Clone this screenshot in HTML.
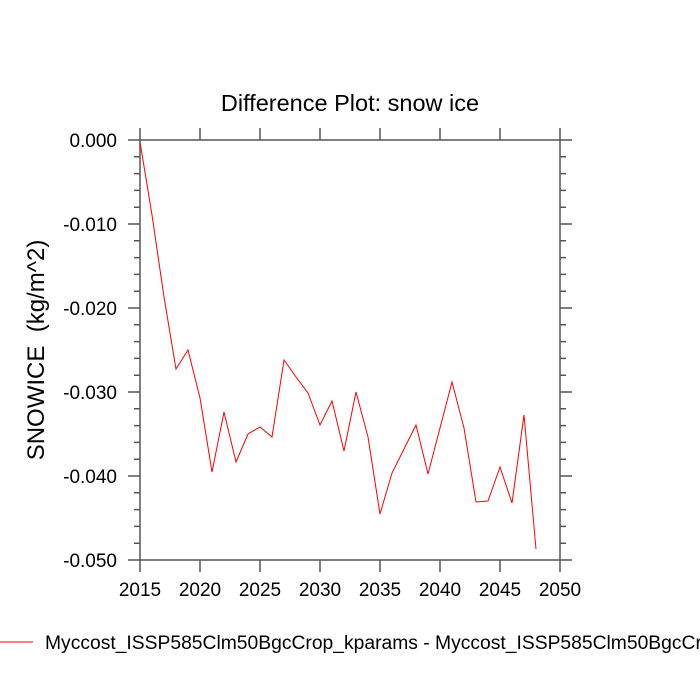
<!DOCTYPE html>
<html><head><meta charset="utf-8"><style>body{margin:0;background:#fff;overflow:hidden}svg{display:block}</style></head>
<body>
<svg width="700" height="700" xmlns="http://www.w3.org/2000/svg" font-family="Liberation Sans, sans-serif">
<text x="350" y="111" font-size="23.5" text-anchor="middle">Difference Plot: snow ice</text>
<g stroke="#555" stroke-width="1.5" fill="none">
<rect x="140" y="140" width="420" height="420"/>
</g>
<g stroke="#555" stroke-width="1.5">
<path d="M140 140V128M200 140V128M260 140V128M320 140V128M380 140V128M440 140V128M500 140V128M560 140V128
M140 560V572M200 560V572M260 560V572M320 560V572M380 560V572M440 560V572M500 560V572M560 560V572"/>
<path d="M140 140H128M140 224H128M140 308H128M140 392H128M140 476H128M140 560H128
M560 140H572M560 224H572M560 308H572M560 392H572M560 476H572M560 560H572"/>
<path d="M140 156.8H134M140 173.6H134M140 190.4H134M140 207.2H134
M140 240.8H134M140 257.6H134M140 274.4H134M140 291.2H134
M140 324.8H134M140 341.6H134M140 358.4H134M140 375.2H134
M140 408.8H134M140 425.6H134M140 442.4H134M140 459.2H134
M140 492.8H134M140 509.6H134M140 526.4H134M140 543.2H134
M560 156.8H566M560 173.6H566M560 190.4H566M560 207.2H566
M560 240.8H566M560 257.6H566M560 274.4H566M560 291.2H566
M560 324.8H566M560 341.6H566M560 358.4H566M560 375.2H566
M560 408.8H566M560 425.6H566M560 442.4H566M560 459.2H566
M560 492.8H566M560 509.6H566M560 526.4H566M560 543.2H566"/>
</g>
<g font-size="19" text-anchor="end">
<text x="117" y="147">0.000</text>
<text x="117" y="231">-0.010</text>
<text x="117" y="315">-0.020</text>
<text x="117" y="399">-0.030</text>
<text x="117" y="483">-0.040</text>
<text x="117" y="567">-0.050</text>
</g>
<g font-size="19" text-anchor="middle">
<text x="140" y="596">2015</text><text x="200" y="596">2020</text><text x="260" y="596">2025</text>
<text x="320" y="596">2030</text><text x="380" y="596">2035</text><text x="440" y="596">2040</text>
<text x="500" y="596">2045</text><text x="560" y="596">2050</text>
</g>
<text transform="translate(44,350) rotate(-90)" font-size="24" text-anchor="middle" xml:space="preserve" style="white-space:pre">SNOWICE  (kg/m^2)</text>
<polyline fill="none" stroke="#ff0000" stroke-width="1" points="140,142 152,215 164,297 176,369 188,350 200,398 212,472 224,412 236,462 248,434 260,427 272,437 284,360 296,377 308,393 320,425 332,401 344,451 356,392 368,437 380,514 392,473 404,449 416,425 428,474 440,428 452,382 464,428 476,502 488,501 500,467 512,503 524,415 536,549"/>
<line x1="0" y1="642" x2="33" y2="642" stroke="#ff0000" stroke-width="1"/>
<text x="45" y="649" font-size="19.3">Myccost_ISSP585Clm50BgcCrop_kparams - Myccost_ISSP585Clm50BgcCrop</text>
</svg>
</body></html>
